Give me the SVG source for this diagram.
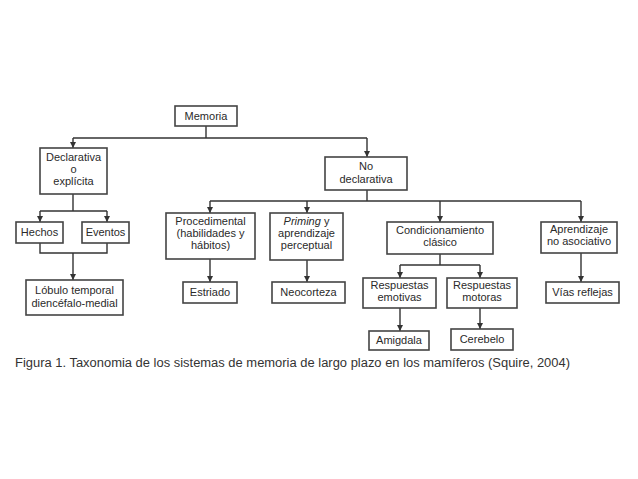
<svg xmlns="http://www.w3.org/2000/svg" width="638" height="479" viewBox="0 0 638 479">
<defs>
<marker id="ah" viewBox="0 0 8 8" refX="8" refY="4" markerWidth="6" markerHeight="6" markerUnits="userSpaceOnUse" orient="auto">
<path d="M0,0 L8,4 L0,8 z" fill="#333"/>
</marker>
<style>
.box{fill:#fff;stroke:#444;stroke-width:1.6}
.t{font-family:"Liberation Sans",Arial,sans-serif;font-size:11px;fill:#2a2a2a;text-anchor:middle}
.c line,.c polyline{stroke:#333;stroke-width:1.4;fill:none}
.cap{font-family:"Liberation Sans",Arial,sans-serif;font-size:12px;fill:#333}
</style>
</defs>
<rect width="638" height="479" fill="#fff"/>
<g class="c" id="connectors">
<line x1="206" y1="126" x2="206" y2="138"/>
<line x1="73" y1="138" x2="367" y2="138"/>
<line x1="73" y1="138" x2="73" y2="148" marker-end="url(#ah)"/>
<line x1="367" y1="138" x2="367" y2="157" marker-end="url(#ah)"/>
<line x1="73" y1="194" x2="73" y2="211"/>
<line x1="40" y1="211" x2="107" y2="211"/>
<line x1="40" y1="211" x2="40" y2="222" marker-end="url(#ah)"/>
<line x1="107" y1="211" x2="107" y2="222" marker-end="url(#ah)"/>
<polyline points="40,243 40,253 107,253 107,243"/>
<line x1="73" y1="253" x2="73" y2="280" marker-end="url(#ah)"/>
<line x1="367" y1="190" x2="367" y2="201"/>
<line x1="210" y1="201" x2="581" y2="201"/>
<line x1="210" y1="201" x2="210" y2="213" marker-end="url(#ah)"/>
<line x1="307" y1="201" x2="307" y2="213" marker-end="url(#ah)"/>
<line x1="440" y1="201" x2="440" y2="222" marker-end="url(#ah)"/>
<line x1="581" y1="201" x2="581" y2="222" marker-end="url(#ah)"/>
<line x1="210" y1="259" x2="210" y2="282" marker-end="url(#ah)"/>
<line x1="307" y1="260" x2="307" y2="282" marker-end="url(#ah)"/>
<line x1="440" y1="254" x2="440" y2="265"/>
<line x1="400" y1="265" x2="480" y2="265"/>
<line x1="400" y1="265" x2="400" y2="278" marker-end="url(#ah)"/>
<line x1="480" y1="265" x2="480" y2="278" marker-end="url(#ah)"/>
<line x1="400" y1="308" x2="400" y2="331" marker-end="url(#ah)"/>
<line x1="480" y1="308" x2="480" y2="329" marker-end="url(#ah)"/>
<line x1="581" y1="253" x2="581" y2="282" marker-end="url(#ah)"/>
</g>
<g id="memoria"><rect class="box" x="175" y="106" width="62" height="20"/><text class="t" x="206" y="120">Memoria</text></g>
<g id="declarativa"><rect class="box" x="40" y="148" width="67" height="46"/><text class="t" x="73.5" y="161">Declarativa</text><text class="t" x="73.5" y="173">o</text><text class="t" x="73.5" y="185">explícita</text></g>
<g id="nodeclarativa"><rect class="box" x="325" y="157" width="82" height="33"/><text class="t" x="366" y="170">No</text><text class="t" x="366" y="183">declarativa</text></g>
<g id="hechos"><rect class="box" x="16" y="222" width="47" height="21"/><text class="t" x="39.5" y="236">Hechos</text></g>
<g id="eventos"><rect class="box" x="82" y="222" width="47" height="21"/><text class="t" x="105.5" y="236">Eventos</text></g>
<g id="lobulo"><rect class="box" x="26" y="280" width="97" height="35"/><text class="t" x="74.5" y="294">Lóbulo temporal</text><text class="t" x="74.5" y="307">diencéfalo-medial</text></g>
<g id="procedimental"><rect class="box" x="166" y="213" width="89" height="46"/><text class="t" x="210.5" y="225">Procedimental</text><text class="t" x="210.5" y="237">(habilidades y</text><text class="t" x="210.5" y="249">hábitos)</text></g>
<g id="priming"><rect class="box" x="270" y="213" width="73" height="47"/><text class="t" x="306.5" y="225"><tspan font-style="italic">Priming</tspan> y</text><text class="t" x="306.5" y="237">aprendizaje</text><text class="t" x="306.5" y="249">perceptual</text></g>
<g id="condicionamiento"><rect class="box" x="387" y="222" width="106" height="32"/><text class="t" x="440" y="234">Condicionamiento</text><text class="t" x="440" y="246">clásico</text></g>
<g id="aprendizaje"><rect class="box" x="541" y="222" width="76" height="31"/><text class="t" x="579" y="233">Aprendizaje</text><text class="t" x="579" y="245">no asociativo</text></g>
<g id="estriado"><rect class="box" x="183" y="282" width="54" height="21"/><text class="t" x="210" y="296">Estriado</text></g>
<g id="neocorteza"><rect class="box" x="272" y="282" width="73" height="21"/><text class="t" x="308.5" y="296">Neocorteza</text></g>
<g id="emotivas"><rect class="box" x="363" y="278" width="73" height="30"/><text class="t" x="399.5" y="289">Respuestas</text><text class="t" x="399.5" y="301">emotivas</text></g>
<g id="motoras"><rect class="box" x="447" y="278" width="70" height="30"/><text class="t" x="482" y="289">Respuestas</text><text class="t" x="482" y="301">motoras</text></g>
<g id="amigdala"><rect class="box" x="369" y="331" width="60" height="19"/><text class="t" x="399" y="344">Amigdala</text></g>
<g id="cerebelo"><rect class="box" x="451" y="329" width="62" height="21"/><text class="t" x="482" y="343">Cerebelo</text></g>
<g id="vias"><rect class="box" x="546" y="282" width="73" height="21"/><text class="t" x="582.5" y="296">Vías reflejas</text></g>
<text class="cap" x="15" y="367" textLength="555" lengthAdjust="spacingAndGlyphs">Figura 1. Taxonomia de los sistemas de memoria de largo plazo en los mamíferos (Squire, 2004)</text>
</svg>
